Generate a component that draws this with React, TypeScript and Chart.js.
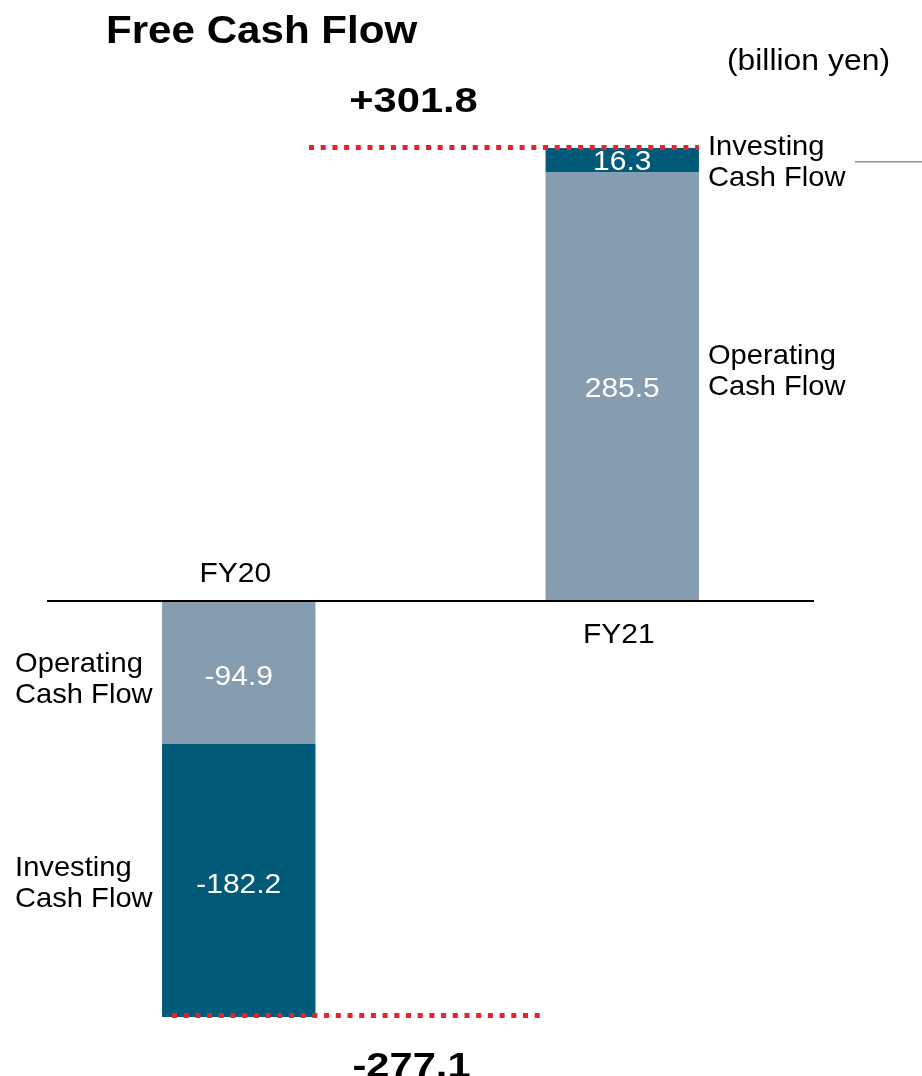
import React, { useEffect, useRef } from "react";
import { Chart, registerables } from "chart.js";

Chart.register(...registerables);

const categories = ["FY20", "FY21"];
const operatingCF = [-94.9, 285.5];
const investingCF = [-182.2, 16.3];
const freeCF = [-277.1, 301.8];
const freeCFLabels = ["-277.1", "+301.8"];
const operatingLabels = ["-94.9", "285.5"];
const investingLabels = ["-182.2", "16.3"];
const seriesNames = ["Operating\nCash Flow", "Investing\nCash Flow"];
const titleText = "Free Cash Flow";
const unitText = "(billion yen)";

const LIGHT = "#869CAF";
const DARK = "#005A78";
const RED = "#E5232C";
const FONT = '"Liberation Sans", Arial, Helvetica, sans-serif';

function txt(
  ctx: CanvasRenderingContext2D,
  s: string,
  x: number,
  y: number,
  size: number,
  bold: boolean,
  align: CanvasTextAlign,
  sx: number,
  color: string
) {
  ctx.save();
  ctx.font = `${bold ? "bold " : ""}${size}px ${FONT}`;
  ctx.fillStyle = color;
  ctx.textBaseline = "alphabetic";
  ctx.textAlign = align;
  ctx.translate(x, y);
  ctx.scale(sx, 1);
  ctx.fillText(s, 0, 0);
  ctx.restore();
}

function dotted(ctx: CanvasRenderingContext2D, x1: number, x2: number, y: number) {
  ctx.save();
  ctx.strokeStyle = RED;
  ctx.lineWidth = 5;
  ctx.lineCap = "butt";
  ctx.setLineDash([5, 6.7]);
  ctx.beginPath();
  ctx.moveTo(Math.round(x1), Math.round(y) + 0.5);
  ctx.lineTo(Math.round(x2), Math.round(y) + 0.5);
  ctx.stroke();
  ctx.restore();
}

const overlay = {
  id: "overlay",
  afterDatasetsDraw(chart: any) {
    const ctx: CanvasRenderingContext2D = chart.ctx;
    const y = chart.scales.y;
    const area = chart.chartArea;
    const m0 = chart.getDatasetMeta(0);
    const zero = y.getPixelForValue(0);

    // zero line
    ctx.save();
    ctx.strokeStyle = "#000";
    ctx.lineWidth = 2;
    ctx.beginPath();
    ctx.moveTo(area.left, zero);
    ctx.lineTo(area.right, zero);
    ctx.stroke();
    ctx.restore();

    const b20 = m0.data[0];
    const b21 = m0.data[1];
    const w = b20.width;
    const l20 = b20.x - w / 2, r20 = b20.x + w / 2;
    const l21 = b21.x - w / 2, r21 = b21.x + w / 2;

    // totals
    const top21 = y.getPixelForValue(freeCF[1]);
    const bot20 = y.getPixelForValue(freeCF[0]);
    dotted(ctx, r20 - 6, r21, top21 - 0.7);
    dotted(ctx, l20 + 10, l21 - 6, bot20 - 2);
    txt(ctx, freeCFLabels[1], (r20 + l21) / 2 - 17, top21 - 36, 35, true, "center", 1.19, "#000");
    txt(ctx, freeCFLabels[0], (r20 + l21) / 2 - 19, bot20 + 60, 35, true, "center", 1.19, "#000");

    // segment mids
    const mid = (a: number, b: number) => (y.getPixelForValue(a) + y.getPixelForValue(b)) / 2;
    const op20 = mid(0, operatingCF[0]);
    const in20 = mid(operatingCF[0], operatingCF[0] + investingCF[0]);
    const op21 = mid(0, operatingCF[1]);
    const in21 = mid(operatingCF[1], operatingCF[1] + investingCF[1]);

    // value labels
    txt(ctx, operatingLabels[0], b20.x, op20 + 13, 28, false, "center", 1.07, "#fff");
    txt(ctx, investingLabels[0], b20.x, in20 + 13, 28, false, "center", 1.07, "#fff");
    txt(ctx, operatingLabels[1], b21.x, op21 + 10, 28, false, "center", 1.07, "#fff");
    txt(ctx, investingLabels[1], b21.x, in21 + 10, 28, false, "center", 1.07, "#fff");

    // series labels
    const [opL1, opL2] = seriesNames[0].split("\n");
    const [inL1, inL2] = seriesNames[1].split("\n");
    txt(ctx, opL1, l20 - 147, op20 + 0, 28, false, "left", 1.04, "#000");
    txt(ctx, opL2, l20 - 147, op20 + 31, 28, false, "left", 1.04, "#000");
    txt(ctx, inL1, l20 - 147, in20 - 4, 28, false, "left", 1.04, "#000");
    txt(ctx, inL2, l20 - 147, in20 + 27, 28, false, "left", 1.04, "#000");
    txt(ctx, opL1, r21 + 9, op21 - 23, 28, false, "left", 1.04, "#000");
    txt(ctx, opL2, r21 + 9, op21 + 8, 28, false, "left", 1.04, "#000");
    txt(ctx, inL1, r21 + 9, in21 - 5, 28, false, "left", 1.04, "#000");
    txt(ctx, inL2, r21 + 9, in21 + 26, 28, false, "left", 1.04, "#000");

    // category labels
    txt(ctx, categories[0], b20.x - 3.5, zero - 19, 28, false, "center", 1.07, "#000");
    txt(ctx, categories[1], b21.x - 3.5, zero + 42, 28, false, "center", 1.07, "#000");

    // title & unit
    txt(ctx, titleText, 106, 43, 39, true, "left", 1.08, "#000");
    txt(ctx, unitText, 890, 70, 29, false, "right", 1.1, "#000");

    // small decorative line at right
    ctx.save();
    ctx.strokeStyle = "#7F95A8";
    ctx.lineWidth = 1.5;
    ctx.beginPath();
    ctx.moveTo(855, in21 + 1.5);
    ctx.lineTo(922, in21 + 1.5);
    ctx.stroke();
    ctx.restore();
  },
};

export default function App() {
  const ref = useRef<HTMLCanvasElement | null>(null);
  useEffect(() => {
    if (!ref.current) return;
    const chart = new Chart(ref.current, {
      type: "bar",
      data: {
        labels: categories,
        datasets: [
          {
            label: "Operating Cash Flow",
            data: operatingCF,
            backgroundColor: LIGHT,
            borderWidth: 0,
            barPercentage: 0.4,
            categoryPercentage: 1,
          },
          {
            label: "Investing Cash Flow",
            data: investingCF,
            backgroundColor: DARK,
            borderWidth: 0,
            barPercentage: 0.4,
            categoryPercentage: 1,
          },
        ],
      },
      options: {
        responsive: false,
        animation: false,
        layout: { padding: { left: 47, right: 108, top: 120.7, bottom: 24.7 } },
        plugins: { legend: { display: false }, tooltip: { enabled: false }, title: { display: false } },
        scales: {
          x: { display: false, stacked: true },
          y: { display: false, stacked: true, min: -300, max: 320 },
        },
      },
      plugins: [overlay],
    });
    return () => chart.destroy();
  }, []);
  return (
    <div style={{ position: "fixed", left: 0, top: 0, width: 922, height: 1076, background: "#fff" }}>
      <canvas ref={ref} width={922} height={1076} style={{ display: "block" }} />
    </div>
  );
}
